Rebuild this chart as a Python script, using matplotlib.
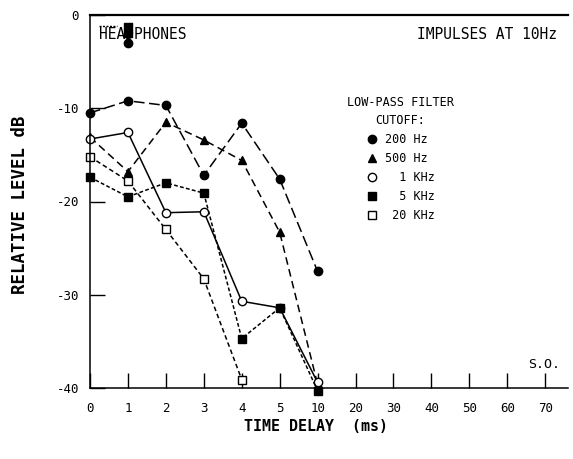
import matplotlib.pyplot as plt
from matplotlib.lines import Line2D

# Delay positions are evenly spaced categories: 0..5 ms, then 10..70 ms
tick_labels = ["0", "1", "2", "3", "4", "5", "10", "20", "30", "40", "50", "60", "70"]
delay_pos = [0, 1, 2, 3, 4, 5, 6]

# Relative level (dB) per low-pass cutoff
lp_200hz = [-10.5, -9.2, -9.7, -17.2, -11.6, -17.6, -27.5]
lp_500hz = [-13.1, -16.8, -11.5, -13.4, -15.6, -23.3, -39.6]
lp_1khz = [-13.3, -12.6, -21.2, -21.1, -30.7, -31.4, -39.4]
lp_5khz = [-17.4, -19.5, -18.0, -19.1, -34.7, -31.4, -40.3]
lp_20khz = [-15.2, -17.8, -23.0, -28.3, -39.1]

# Headphone reference points at 1 ms
hp_pos = [1, 1]
hp_level = [-1.6, -3.0]

plt.rcParams.update({
    "font.family": "DejaVu Sans Mono",
    "font.size": 9,
})

fig = plt.figure(figsize=(5.73, 4.59), dpi=100)
ax = fig.add_axes([90 / 573, 71 / 459, 478 / 573, 373 / 459])

kw = dict(color="k", lw=1.1, clip_on=False)
ax.plot(delay_pos, lp_200hz, marker="o", ms=6, ls=(0, (7, 3)), mfc="k", **kw)
ax.plot(delay_pos, lp_500hz, marker="^", ms=6, ls=(0, (5, 3)), mfc="k", **kw)
ax.plot(delay_pos, lp_1khz, marker="o", ms=6, ls="-", mfc="white", **kw)
ax.plot(delay_pos, lp_5khz, marker="s", ms=5.5, ls=(0, (2.5, 1.5)), mfc="k", **kw)
ax.plot(delay_pos[:len(lp_20khz)], lp_20khz, marker="s", ms=5.5, ls=(0, (3, 2)),
        mfc="white", **kw)

# headphones markers: tall block above a dot
tall_box = [(-1, -1.7), (1, -1.7), (1, 1.7), (-1, 1.7), (-1, -1.7)]
ax.plot(hp_pos[:1], hp_level[:1], marker=tall_box, ms=10, color="k", ls="none")
ax.plot(hp_pos[1:], hp_level[1:], marker="o", ms=6, color="k", ls="none")
ax.plot([0.25, 0.7], [-1.2, -1.2], color="k", lw=1, ls=(0, (1.5, 1)))

ax.set_xlim(0, 12.6)
ax.set_ylim(-40, 0)
ax.set_xticks(range(len(tick_labels)))
ax.set_xticklabels(tick_labels)
ax.set_yticks([0, -10, -20, -30, -40])
ax.set_yticklabels(["0", "-10", "-20", "-30", "-40"])
ax.tick_params(axis="both", direction="in", length=11, width=1, pad=8, labelsize=9)
ax.tick_params(axis="x", pad=10)

ax.spines["right"].set_visible(False)
ax.spines["top"].set_linewidth(1.6)
ax.spines["left"].set_linewidth(1.1)
ax.spines["bottom"].set_linewidth(1.1)

ax.set_ylabel("RELATIVE LEVEL dB", fontsize=12.5, fontweight="bold")
ax.yaxis.set_label_coords(-0.128, 0.49)
ax.set_xlabel("TIME DELAY  (ms)", fontsize=10.8, fontweight="bold")
ax.xaxis.set_label_coords(0.473, -0.083)

ax.text(0.25, -2.1, "HEADPHONES", fontsize=10.5, va="center", ha="left")
ax.text(12.3, -2.1, "IMPULSES AT 10Hz", fontsize=10.5, va="center", ha="right")
ax.text(12.4, -37.5, "S.O.", fontsize=9.5, va="center", ha="right")

handles = [
    Line2D([], [], marker="o", ls="none", color="k", mfc="k", ms=6),
    Line2D([], [], marker="^", ls="none", color="k", mfc="k", ms=6),
    Line2D([], [], marker="o", ls="none", color="k", mfc="white", ms=6),
    Line2D([], [], marker="s", ls="none", color="k", mfc="k", ms=5.5),
    Line2D([], [], marker="s", ls="none", color="k", mfc="white", ms=5.5),
]
labels = ["200 Hz", "500 Hz", "  1 KHz", "  5 KHz", " 20 KHz"]
leg = ax.legend(handles, labels, title="LOW-PASS FILTER\nCUTOFF:", frameon=False,
                fontsize=8.5, title_fontsize=8.5, loc="upper center",
                bbox_to_anchor=(0.6485, 0.812), handletextpad=0.5,
                labelspacing=0.52, handlelength=1.2, alignment="center")
leg.get_title().set_multialignment("center")
leg.get_title().set_linespacing(1.5)

fig.savefig("out.png", dpi=100)
